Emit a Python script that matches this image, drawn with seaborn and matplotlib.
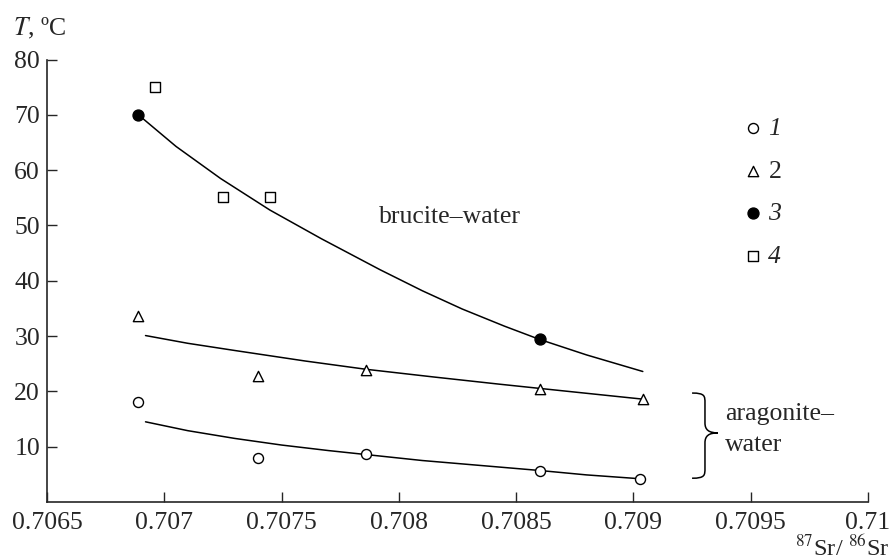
import numpy as np
import matplotlib
matplotlib.use("Agg")
import matplotlib.pyplot as plt
from matplotlib.path import Path
from matplotlib.patches import PathPatch
import seaborn as sns

# Measured samples: T (deg C) versus 87Sr/86Sr ratio
s1_x = [0.70689, 0.70740, 0.70786, 0.70860, 0.70903]
s1_y = [18.0, 8.0, 8.7, 5.6, 4.1]

s2_x = [0.70689, 0.70740, 0.70786, 0.70860, 0.70904]
s2_y = [33.6, 22.7, 23.9, 20.4, 18.6]

s3_x = [0.70689, 0.70860]
s3_y = [70.0, 29.4]

s4_x = [0.70696, 0.70725, 0.70745]
s4_y = [75.0, 55.2, 55.2]

# Equilibrium curves
brucite_x = [0.70689, 0.70705, 0.70724, 0.70745, 0.70767, 0.70792, 0.70810,
             0.70827, 0.70845, 0.70860, 0.70880, 0.70904]
brucite_y = [70.0, 64.3, 58.5, 52.8, 47.6, 42.0, 38.2, 34.9, 31.8, 29.4,
             26.6, 23.6]

arag_hi_x = [0.70692, 0.70710, 0.70730, 0.70760, 0.70786, 0.70815, 0.70843,
             0.70870, 0.70904]
arag_hi_y = [30.1, 28.7, 27.4, 25.5, 24.0, 22.6, 21.3, 20.1, 18.6]

arag_lo_x = [0.70692, 0.70710, 0.70730, 0.70750, 0.70770, 0.70790, 0.70810,
             0.70835, 0.70860, 0.70880, 0.70903]
arag_lo_y = [14.5, 12.9, 11.5, 10.3, 9.3, 8.4, 7.5, 6.6, 5.7, 4.9, 4.2]

x_ticks = [0.7065, 0.707, 0.7075, 0.708, 0.7085, 0.709, 0.7095, 0.71]
x_labels = ["0.7065", "0.707", "0.7075", "0.708", "0.7085", "0.709", "0.7095", "0.71"]
y_ticks = [10, 20, 30, 40, 50, 60, 70, 80]
legend_labels = ["1", "2", "3", "4"]

sns.set_style("ticks")
plt.rcParams["font.family"] = ["Liberation Serif", "DejaVu Serif"]
plt.rcParams["mathtext.fontset"] = "stix"

ink = "#262626"
fs = 18.5
fig = plt.figure(figsize=(8.94, 5.59), dpi=100)
ax = fig.add_axes([47 / 894, 1 - 502 / 559, 821 / 894, (502 - 59.6) / 559])

for lx, ly in [(brucite_x, brucite_y), (arag_hi_x, arag_hi_y), (arag_lo_x, arag_lo_y)]:
    sns.lineplot(x=lx, y=ly, ax=ax, color="black", lw=1.1,
                 estimator=None, sort=False, legend=False, zorder=2)

common = dict(ax=ax, edgecolor="black", linewidth=1.0, zorder=3, legend=False)
sns.scatterplot(x=s1_x, y=s1_y, marker="o", s=52, facecolor="white", **common)
sns.scatterplot(x=s2_x, y=s2_y, marker="^", s=55, facecolor="white", **common)
sns.scatterplot(x=s3_x, y=s3_y, marker="o", s=62, facecolor="black", **common)
sns.scatterplot(x=s4_x, y=s4_y, marker="s", s=52, facecolor="white", **common)

handles = ax.collections[-4:]
leg = ax.legend(handles, legend_labels, loc="upper left",
                bbox_to_anchor=(0.8474, 0.870), frameon=False,
                borderpad=0, borderaxespad=0, handlelength=0.8,
                handletextpad=0.2, labelspacing=0.76, fontsize=fs)
for i, t in enumerate(leg.get_texts()):
    t.set_color(ink)
    t.set_style("normal" if i == 1 else "italic")

ax.set_xlim(0.7065, 0.71)
ax.set_ylim(0, 80)
ax.set_xticks(x_ticks)
ax.set_xticklabels(x_labels)
ax.set_yticks(y_ticks)
ax.tick_params(axis="both", direction="in", length=7.5, width=1.0,
               labelsize=fs, labelcolor=ink, color=ink)
ax.tick_params(axis="x", pad=7)
ax.tick_params(axis="y", pad=5)
for side in ["top", "right"]:
    ax.spines[side].set_visible(False)
for side in ["left", "bottom"]:
    ax.spines[side].set_linewidth(1.2)
    ax.spines[side].set_color(ink)
ax.set_xlabel("")
ax.set_ylabel("")

ax.text(0.70822, 51.5, "brucite\u2013water", ha="center", va="center",
        fontsize=fs, color=ink)
ax.text(0.70939, 15.9, "aragonite\u2013", ha="left", va="center",
        fontsize=fs, color=ink)
ax.text(0.70939, 10.3, "water", ha="left", va="center",
        fontsize=fs, color=ink)

# Curly brace grouping the two aragonite curves
x0, x1, x2 = 0.70925, 0.709305, 0.70936
yt, ym, yb, d = 19.7, 12.5, 4.3, 1.8
verts = [
    (x0, yt),
    (x1, yt), (x1, yt - 0.3 * d), (x1, yt - d),
    (x1, ym + d),
    (x1, ym + 0.3 * d), (x1 + 0.3 * (x2 - x1), ym), (x2, ym),
    (x1 + 0.3 * (x2 - x1), ym), (x1, ym - 0.3 * d), (x1, ym - d),
    (x1, yb + d),
    (x1, yb + 0.3 * d), (x1, yb), (x0, yb),
]
codes = [Path.MOVETO,
         Path.CURVE4, Path.CURVE4, Path.CURVE4,
         Path.LINETO,
         Path.CURVE4, Path.CURVE4, Path.CURVE4,
         Path.CURVE4, Path.CURVE4, Path.CURVE4,
         Path.LINETO,
         Path.CURVE4, Path.CURVE4, Path.CURVE4]
ax.add_patch(PathPatch(Path(verts, codes), facecolor="none",
                       edgecolor="black", lw=1.1, clip_on=False))

fig.text(13 / 894, 1 - 35 / 559, "$T$, \u00baC", ha="left", va="baseline",
         fontsize=fs, color=ink)
fig.text(890 / 894, 1 - 555.5 / 559, "$^{87}$Sr/ $^{86}$Sr", ha="right",
         va="baseline", fontsize=17.5, color=ink)

fig.savefig("out.png", dpi=100)
